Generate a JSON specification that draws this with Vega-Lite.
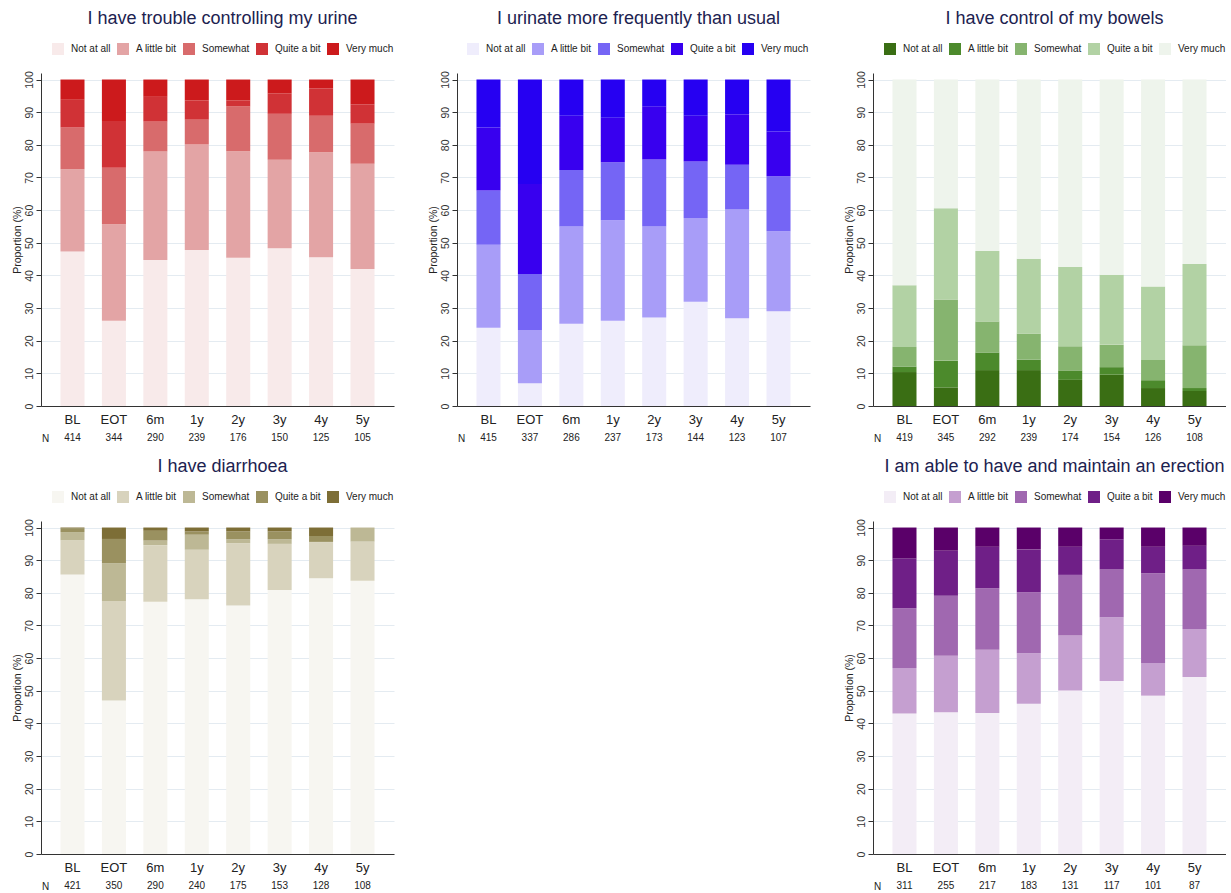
{
  "$schema": "https://vega.github.io/schema/vega-lite/v6.json",
  "background": "white",
  "padding": {"left": 12, "top": 10, "right": 0, "bottom": 0},
  "datasets": {
    "lv": [
      {"r": "Not at all", "k": 1},
      {"r": "A little bit", "k": 2},
      {"r": "Somewhat", "k": 3},
      {"r": "Quite a bit", "k": 4},
      {"r": "Very much", "k": 5}
    ],
    "p1": [
      {"t": "BL", "n": 414, "Not at all": 47.3, "A little bit": 25.2, "Somewhat": 12.8, "Quite a bit": 8.5, "Very much": 6.2},
      {"t": "EOT", "n": 344, "Not at all": 26.1, "A little bit": 29.6, "Somewhat": 17.3, "Quite a bit": 14.3, "Very much": 12.7},
      {"t": "6m", "n": 290, "Not at all": 44.7, "A little bit": 33.3, "Somewhat": 9.1, "Quite a bit": 7.6, "Very much": 5.3},
      {"t": "1y", "n": 239, "Not at all": 47.8, "A little bit": 32.3, "Somewhat": 7.6, "Quite a bit": 5.9, "Very much": 6.4},
      {"t": "2y", "n": 176, "Not at all": 45.4, "A little bit": 32.6, "Somewhat": 13.8, "Quite a bit": 1.8, "Very much": 6.4},
      {"t": "3y", "n": 150, "Not at all": 48.3, "A little bit": 27.1, "Somewhat": 14.1, "Quite a bit": 6.2, "Very much": 4.3},
      {"t": "4y", "n": 125, "Not at all": 45.6, "A little bit": 32.1, "Somewhat": 11.2, "Quite a bit": 8.4, "Very much": 2.7},
      {"t": "5y", "n": 105, "Not at all": 42.0, "A little bit": 32.2, "Somewhat": 12.3, "Quite a bit": 5.9, "Very much": 7.6}
    ],
    "p2": [
      {"t": "BL", "n": 415, "Not at all": 24.0, "A little bit": 25.4, "Somewhat": 16.6, "Quite a bit": 19.3, "Very much": 14.7},
      {"t": "EOT", "n": 337, "Not at all": 7.0, "A little bit": 16.3, "Somewhat": 17.1, "Quite a bit": 27.6, "Very much": 32.0},
      {"t": "6m", "n": 286, "Not at all": 25.2, "A little bit": 29.8, "Somewhat": 17.3, "Quite a bit": 16.6, "Very much": 11.1},
      {"t": "1y", "n": 237, "Not at all": 26.1, "A little bit": 30.8, "Somewhat": 17.8, "Quite a bit": 13.6, "Very much": 11.7},
      {"t": "2y", "n": 173, "Not at all": 27.1, "A little bit": 27.9, "Somewhat": 20.5, "Quite a bit": 16.3, "Very much": 8.2},
      {"t": "3y", "n": 144, "Not at all": 31.9, "A little bit": 25.7, "Somewhat": 17.3, "Quite a bit": 14.0, "Very much": 11.1},
      {"t": "4y", "n": 123, "Not at all": 26.9, "A little bit": 33.3, "Somewhat": 13.7, "Quite a bit": 15.5, "Very much": 10.6},
      {"t": "5y", "n": 107, "Not at all": 29.0, "A little bit": 24.5, "Somewhat": 16.9, "Quite a bit": 13.7, "Very much": 15.9}
    ],
    "p3": [
      {"t": "BL", "n": 419, "Not at all": 10.4, "A little bit": 1.7, "Somewhat": 6.0, "Quite a bit": 18.9, "Very much": 63.0},
      {"t": "EOT", "n": 345, "Not at all": 5.7, "A little bit": 8.2, "Somewhat": 18.7, "Quite a bit": 28.0, "Very much": 39.4},
      {"t": "6m", "n": 292, "Not at all": 11.0, "A little bit": 5.4, "Somewhat": 9.5, "Quite a bit": 21.6, "Very much": 52.5},
      {"t": "1y", "n": 239, "Not at all": 11.0, "A little bit": 3.2, "Somewhat": 8.0, "Quite a bit": 22.9, "Very much": 54.9},
      {"t": "2y", "n": 174, "Not at all": 8.0, "A little bit": 2.9, "Somewhat": 7.4, "Quite a bit": 24.3, "Very much": 57.4},
      {"t": "3y", "n": 154, "Not at all": 9.6, "A little bit": 2.3, "Somewhat": 6.9, "Quite a bit": 21.4, "Very much": 59.8},
      {"t": "4y", "n": 126, "Not at all": 5.5, "A little bit": 2.4, "Somewhat": 6.2, "Quite a bit": 22.5, "Very much": 63.4},
      {"t": "5y", "n": 108, "Not at all": 4.6, "A little bit": 0.9, "Somewhat": 13.1, "Quite a bit": 24.9, "Very much": 56.5}
    ],
    "p4": [
      {"t": "BL", "n": 421, "Not at all": 85.6, "A little bit": 10.5, "Somewhat": 2.5, "Quite a bit": 1.2, "Very much": 0.2},
      {"t": "EOT", "n": 350, "Not at all": 47.0, "A little bit": 30.5, "Somewhat": 11.5, "Quite a bit": 7.5, "Very much": 3.5},
      {"t": "6m", "n": 290, "Not at all": 77.3, "A little bit": 17.3, "Somewhat": 1.4, "Quite a bit": 3.0, "Very much": 1.0},
      {"t": "1y", "n": 240, "Not at all": 78.0, "A little bit": 15.2, "Somewhat": 4.6, "Quite a bit": 1.0, "Very much": 1.2},
      {"t": "2y", "n": 175, "Not at all": 76.1, "A little bit": 19.1, "Somewhat": 1.2, "Quite a bit": 2.4, "Very much": 1.2},
      {"t": "3y", "n": 153, "Not at all": 80.9, "A little bit": 14.1, "Somewhat": 1.4, "Quite a bit": 2.4, "Very much": 1.2},
      {"t": "4y", "n": 128, "Not at all": 84.5, "A little bit": 11.0, "Somewhat": 0.1, "Quite a bit": 1.8, "Very much": 2.6},
      {"t": "5y", "n": 108, "Not at all": 83.7, "A little bit": 12.0, "Somewhat": 4.3, "Quite a bit": 0.0, "Very much": 0.0}
    ],
    "p5": [
      {"t": "BL", "n": 311, "Not at all": 43.0, "A little bit": 14.0, "Somewhat": 18.3, "Quite a bit": 15.2, "Very much": 9.5},
      {"t": "EOT", "n": 255, "Not at all": 43.4, "A little bit": 17.3, "Somewhat": 18.4, "Quite a bit": 13.8, "Very much": 7.1},
      {"t": "6m", "n": 217, "Not at all": 43.2, "A little bit": 19.4, "Somewhat": 18.8, "Quite a bit": 12.7, "Very much": 5.9},
      {"t": "1y", "n": 183, "Not at all": 46.0, "A little bit": 15.5, "Somewhat": 18.7, "Quite a bit": 13.1, "Very much": 6.7},
      {"t": "2y", "n": 131, "Not at all": 50.1, "A little bit": 16.8, "Somewhat": 18.6, "Quite a bit": 8.6, "Very much": 5.9},
      {"t": "3y", "n": 117, "Not at all": 53.0, "A little bit": 19.5, "Somewhat": 14.7, "Quite a bit": 9.2, "Very much": 3.6},
      {"t": "4y", "n": 101, "Not at all": 48.5, "A little bit": 10.0, "Somewhat": 27.5, "Quite a bit": 8.1, "Very much": 5.9},
      {"t": "5y", "n": 87, "Not at all": 54.2, "A little bit": 14.7, "Somewhat": 18.3, "Quite a bit": 7.2, "Very much": 5.6}
    ]
  },
  "config": {
    "font": "Liberation Sans",
    "view": {"stroke": null},
    "title": {"fontSize": 18, "fontWeight": "normal", "color": "#1c2250", "anchor": "middle", "dx": 5, "offset": 15},
    "axisX": {"labelAngle": 0, "labelFontSize": 13, "labelColor": "#222222", "labelPadding": 7, "ticks": false, "domainColor": "#333333", "grid": false,
      "titleX": 4, "titleY": 32, "titleAlign": "center", "titleBaseline": "middle", "titleFontSize": 10, "titleFontWeight": "normal", "titleColor": "#222222", "titleAngle": 0},
    "axisY": {"labelAngle": -90, "labelAlign": "center", "labelBaseline": "bottom", "labelFontSize": 10.5, "labelColor": "#333333", "labelPadding": 2, "labelOverlap": false,
      "tickCount": 11, "values": [0, 10, 20, 30, 40, 50, 60, 70, 80, 90, 100],
      "tickSize": 5, "tickColor": "#333333", "domainColor": "#333333", "grid": true, "gridColor": "#e4ebf1",
      "titleFontSize": 10.5, "titleFontWeight": "normal", "titleColor": "#222222", "titlePadding": 2},
    "legend": {"orient": "none", "legendX": 11, "legendY": -30, "direction": "horizontal", "columns": 5, "symbolType": "square", "symbolSize": 144,
      "symbolStrokeWidth": 0, "labelFontSize": 10, "labelOffset": 7, "columnPadding": 6, "labelColor": "#222222"},
    "bar": {"stroke": null}
  },
  "columns": 3,
  "spacing": {"row": 15, "column": 34},
  "resolve": {"scale": {"color": "independent"}, "legend": {"color": "independent"}},
  "concat": [
    {
      "width": 353, "height": 333,
      "title": "I have trouble controlling my urine",
      "data": {"name": "p1"},
      "encoding": {"x": {"field": "t", "type": "nominal", "sort": ["BL", "EOT", "6m", "1y", "2y", "3y", "4y", "5y"], "scale": {"paddingInner": 0.42, "paddingOuter": 0.47}, "axis": {"title": "N"}}},
      "layer": [
        {
          "transform": [
            {"fold": ["Not at all", "A little bit", "Somewhat", "Quite a bit", "Very much"], "as": ["r", "v"]},
            {"lookup": "r", "from": {"data": {"name": "lv"}, "key": "r", "fields": ["k"]}}
          ],
          "mark": {"type": "bar"},
          "encoding": {
            "y": {"field": "v", "type": "quantitative", "stack": "zero", "scale": {"domain": [0, 102], "nice": false}, "axis": {"title": "Proportion (%)", "values": [0, 10, 20, 30, 40, 50, 60, 70, 80, 90, 100]}},
            "color": {"field": "r", "type": "nominal", "scale": {"domain": ["Not at all", "A little bit", "Somewhat", "Quite a bit", "Very much"], "range": ["#f8eaea", "#e3a4a5", "#d86b6c", "#d03236", "#cc1a1c"]}, "legend": {"title": null}},
            "order": {"field": "k", "type": "quantitative"}
          }
        },
        {
          "mark": {"type": "text", "dy": 32, "fontSize": 10, "color": "#222222", "baseline": "middle"},
          "encoding": {"y": {"datum": 0, "axis": {"title": "Proportion (%)", "values": [0, 10, 20, 30, 40, 50, 60, 70, 80, 90, 100]}}, "text": {"field": "n", "type": "nominal"}}
        }
      ]
    },
    {
      "width": 353, "height": 333,
      "title": "I urinate more frequently than usual",
      "data": {"name": "p2"},
      "encoding": {"x": {"field": "t", "type": "nominal", "sort": ["BL", "EOT", "6m", "1y", "2y", "3y", "4y", "5y"], "scale": {"paddingInner": 0.42, "paddingOuter": 0.47}, "axis": {"title": "N"}}},
      "layer": [
        {
          "transform": [
            {"fold": ["Not at all", "A little bit", "Somewhat", "Quite a bit", "Very much"], "as": ["r", "v"]},
            {"lookup": "r", "from": {"data": {"name": "lv"}, "key": "r", "fields": ["k"]}}
          ],
          "mark": {"type": "bar"},
          "encoding": {
            "y": {"field": "v", "type": "quantitative", "stack": "zero", "scale": {"domain": [0, 102], "nice": false}, "axis": {"title": "Proportion (%)", "values": [0, 10, 20, 30, 40, 50, 60, 70, 80, 90, 100]}},
            "color": {"field": "r", "type": "nominal", "scale": {"domain": ["Not at all", "A little bit", "Somewhat", "Quite a bit", "Very much"], "range": ["#efedfc", "#a89df8", "#7565f5", "#3800ef", "#2600f2"]}, "legend": {"title": null, "legendX": 10}},
            "order": {"field": "k", "type": "quantitative"}
          }
        },
        {
          "mark": {"type": "text", "dy": 32, "fontSize": 10, "color": "#222222", "baseline": "middle"},
          "encoding": {"y": {"datum": 0, "axis": {"title": "Proportion (%)", "values": [0, 10, 20, 30, 40, 50, 60, 70, 80, 90, 100]}}, "text": {"field": "n", "type": "nominal"}}
        }
      ]
    },
    {
      "width": 353, "height": 333,
      "title": "I have control of my bowels",
      "data": {"name": "p3"},
      "encoding": {"x": {"field": "t", "type": "nominal", "sort": ["BL", "EOT", "6m", "1y", "2y", "3y", "4y", "5y"], "scale": {"paddingInner": 0.42, "paddingOuter": 0.47}, "axis": {"title": "N"}}},
      "layer": [
        {
          "transform": [
            {"fold": ["Not at all", "A little bit", "Somewhat", "Quite a bit", "Very much"], "as": ["r", "v"]},
            {"lookup": "r", "from": {"data": {"name": "lv"}, "key": "r", "fields": ["k"]}}
          ],
          "mark": {"type": "bar"},
          "encoding": {
            "y": {"field": "v", "type": "quantitative", "stack": "zero", "scale": {"domain": [0, 102], "nice": false}, "axis": {"title": "Proportion (%)", "values": [0, 10, 20, 30, 40, 50, 60, 70, 80, 90, 100]}},
            "color": {"field": "r", "type": "nominal", "scale": {"domain": ["Not at all", "A little bit", "Somewhat", "Quite a bit", "Very much"], "range": ["#3a6e14", "#4c8a2c", "#86b46f", "#b2d2a4", "#eef4ec"]}, "legend": {"title": null}},
            "order": {"field": "k", "type": "quantitative"}
          }
        },
        {
          "mark": {"type": "text", "dy": 32, "fontSize": 10, "color": "#222222", "baseline": "middle"},
          "encoding": {"y": {"datum": 0, "axis": {"title": "Proportion (%)", "values": [0, 10, 20, 30, 40, 50, 60, 70, 80, 90, 100]}}, "text": {"field": "n", "type": "nominal"}}
        }
      ]
    },
    {
      "width": 353, "height": 333,
      "title": "I have diarrhoea",
      "data": {"name": "p4"},
      "encoding": {"x": {"field": "t", "type": "nominal", "sort": ["BL", "EOT", "6m", "1y", "2y", "3y", "4y", "5y"], "scale": {"paddingInner": 0.42, "paddingOuter": 0.47}, "axis": {"title": "N"}}},
      "layer": [
        {
          "transform": [
            {"fold": ["Not at all", "A little bit", "Somewhat", "Quite a bit", "Very much"], "as": ["r", "v"]},
            {"lookup": "r", "from": {"data": {"name": "lv"}, "key": "r", "fields": ["k"]}}
          ],
          "mark": {"type": "bar"},
          "encoding": {
            "y": {"field": "v", "type": "quantitative", "stack": "zero", "scale": {"domain": [0, 102], "nice": false}, "axis": {"title": "Proportion (%)", "values": [0, 10, 20, 30, 40, 50, 60, 70, 80, 90, 100]}},
            "color": {"field": "r", "type": "nominal", "scale": {"domain": ["Not at all", "A little bit", "Somewhat", "Quite a bit", "Very much"], "range": ["#f7f6f1", "#d8d3bd", "#bdb895", "#9a9160", "#7d6e36"]}, "legend": {"title": null}},
            "order": {"field": "k", "type": "quantitative"}
          }
        },
        {
          "mark": {"type": "text", "dy": 32, "fontSize": 10, "color": "#222222", "baseline": "middle"},
          "encoding": {"y": {"datum": 0, "axis": {"title": "Proportion (%)", "values": [0, 10, 20, 30, 40, 50, 60, 70, 80, 90, 100]}}, "text": {"field": "n", "type": "nominal"}}
        }
      ]
    },
    {
      "width": 353, "height": 333,
      "data": {"values": []},
      "mark": "point",
      "encoding": {}
    },
    {
      "width": 353, "height": 333,
      "title": "I am able to have and maintain an erection",
      "data": {"name": "p5"},
      "encoding": {"x": {"field": "t", "type": "nominal", "sort": ["BL", "EOT", "6m", "1y", "2y", "3y", "4y", "5y"], "scale": {"paddingInner": 0.42, "paddingOuter": 0.47}, "axis": {"title": "N"}}},
      "layer": [
        {
          "transform": [
            {"fold": ["Not at all", "A little bit", "Somewhat", "Quite a bit", "Very much"], "as": ["r", "v"]},
            {"lookup": "r", "from": {"data": {"name": "lv"}, "key": "r", "fields": ["k"]}}
          ],
          "mark": {"type": "bar"},
          "encoding": {
            "y": {"field": "v", "type": "quantitative", "stack": "zero", "scale": {"domain": [0, 102], "nice": false}, "axis": {"title": "Proportion (%)", "values": [0, 10, 20, 30, 40, 50, 60, 70, 80, 90, 100]}},
            "color": {"field": "r", "type": "nominal", "scale": {"domain": ["Not at all", "A little bit", "Somewhat", "Quite a bit", "Very much"], "range": ["#f3edf6", "#c59fd0", "#a068b0", "#6f1f87", "#5a0069"]}, "legend": {"title": null}},
            "order": {"field": "k", "type": "quantitative"}
          }
        },
        {
          "mark": {"type": "text", "dy": 32, "fontSize": 10, "color": "#222222", "baseline": "middle"},
          "encoding": {"y": {"datum": 0, "axis": {"title": "Proportion (%)", "values": [0, 10, 20, 30, 40, 50, 60, 70, 80, 90, 100]}}, "text": {"field": "n", "type": "nominal"}}
        }
      ]
    }
  ]
}
